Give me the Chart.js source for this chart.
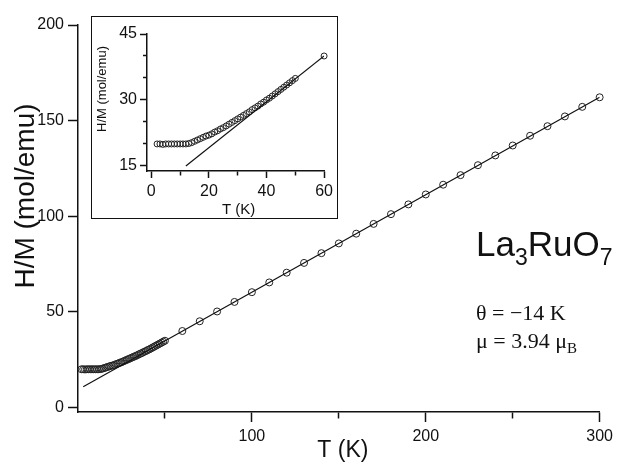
<!DOCTYPE html>
<html>
<head>
<meta charset="utf-8">
<script src="https://cdn.jsdelivr.net/npm/chart.js@4.4.1/dist/chart.umd.min.js"></script>
<style>
  body { margin: 0; background: #fff; }
  #wrap { position: relative; width: 618px; height: 462px; }
  #mainChart { position: absolute; left: 0; top: 0; }
  #insetBox { position: absolute; left: 91px; top: 16px; width: 245px; height: 201px; border: 1.5px solid #111; background: #fff; }
  #insetChart { position: absolute; left: 0; top: 0; }
</style>
</head>
<body>
<div id="wrap">
  <canvas id="mainChart" width="618" height="462"></canvas>
  <div id="insetBox"><canvas id="insetChart" width="245" height="201"></canvas></div>
</div>
<script>
// inverse susceptibility H/M (mol/emu) vs temperature T (K)
const lowT = [2, 3, 4, 5, 6, 7, 8, 9, 10, 11, 12, 13, 14, 15, 16, 17, 18, 19, 20,
  21, 22, 23, 24, 25, 26, 27, 28, 29, 30, 31, 32, 33, 34, 35, 36, 37, 38, 39, 40,
  41, 42, 43, 44, 45, 46, 47, 48, 49, 50];
const lowHM = [20.0, 20.0, 19.9, 20.0, 20.0, 20.0, 20.0, 20.0, 20.0, 20.0, 20.0, 20.1, 20.3, 20.6, 20.9, 21.2, 21.5, 21.8, 22.0,
  22.3, 22.7, 23.0, 23.4, 23.7, 24.1, 24.5, 24.9, 25.3, 25.7, 26.1, 26.5, 26.9, 27.3, 27.8, 28.2, 28.6, 29.1, 29.5, 30.0,
  30.4, 30.9, 31.4, 31.9, 32.4, 32.9, 33.4, 33.9, 34.4, 34.9];
const highT = [60, 70, 80, 90, 100, 110, 120, 130, 140, 150, 160, 170, 180, 190, 200,
  210, 220, 230, 240, 250, 260, 270, 280, 290, 300];
const highHM = [40.0, 45.1, 50.2, 55.2, 60.3, 65.4, 70.5, 75.6, 80.7, 85.8, 90.9, 96.0, 101.1, 106.2, 111.4,
  116.5, 121.5, 126.7, 131.8, 137.0, 142.1, 147.1, 152.2, 157.2, 162.2];

// Curie-Weiss fit lines
const fitT = [3, 300];
const fitHM = [10.8, 162.2];
const insetFitT = [12, 60];
const insetFitHM = [15, 40];

// axis ticks
const xMajor = [100, 200, 300];
const xMinor = [50, 150, 250];
const yMajor = [0, 50, 100, 150, 200];
const insetXMajor = [0, 20, 40, 60];
const insetXMinor = [10, 30, 50];
const insetYMajor = [15, 30, 45];
const insetYMinor = [20, 25, 35, 40];

const SANS = '"Liberation Sans", Arial, Helvetica, sans-serif';
const SERIF = '"Liberation Serif", "Times New Roman", serif';
const INK = '#111';

const pts = (xs, ys) => xs.map((x, i) => ({ x: x, y: ys[i] }));

// minor ticks are the same tick lines cut short with a dash pattern;
// left axes draw ticks from the outer end inwards, so the dash is offset there
function axis(o) {
  const minor = o.minor || [];
  const all = o.major.concat(minor).sort((a, b) => a - b);
  const isMinor = v => minor.includes(v);
  const left = o.axis === 'y';
  return {
    type: 'linear',
    axis: o.axis,
    position: left ? 'left' : 'bottom',
    min: o.min,
    max: o.max,
    afterBuildTicks: s => { s.ticks = all.map(v => ({ value: v })); },
    afterFit: s => {
      if (left) s.width = o.size; else s.height = o.size;
    },
    border: { display: true, color: INK, width: 1.5 },
    grid: {
      drawOnChartArea: false,
      drawTicks: true,
      tickLength: o.tick,
      tickWidth: 1.5,
      tickColor: INK,
      tickBorderDash: c => isMinor(c.tick.value) ? [o.minorTick, o.tick - o.minorTick] : [],
      tickBorderDashOffset: c => (left && isMinor(c.tick.value)) ? o.minorTick : 0
    },
    ticks: {
      color: INK, padding: o.pad, autoSkip: false, maxRotation: 0,
      font: { family: SANS, size: o.font },
      callback: v => isMinor(v) ? '' : String(v)
    }
  };
}

function runs(ctx, x, y, parts) {
  for (const p of parts) {
    ctx.font = p.font;
    ctx.fillText(p.text, x, y + (p.dy || 0));
    x += ctx.measureText(p.text).width;
  }
}

const mainText = {
  id: 'mainText',
  afterDraw(chart) {
    const ctx = chart.ctx;
    const a = chart.chartArea;
    ctx.save();
    ctx.fillStyle = INK;
    ctx.textAlign = 'center';
    ctx.textBaseline = 'middle';
    ctx.font = '28px ' + SANS;
    ctx.translate(26, 196);
    ctx.rotate(-Math.PI / 2);
    ctx.fillText('H/M (mol/emu)', 0, 0);
    ctx.restore();

    ctx.save();
    ctx.fillStyle = INK;
    ctx.textAlign = 'center';
    ctx.textBaseline = 'middle';
    ctx.font = '23px ' + SANS;
    ctx.fillText('T (K)', (a.left + a.right) / 2 + 4, 451);

    ctx.textAlign = 'left';
    ctx.textBaseline = 'alphabetic';
    runs(ctx, 476, 256, [
      { text: 'La', font: '35px ' + SANS },
      { text: '3', font: '23px ' + SANS, dy: 9 },
      { text: 'RuO', font: '35px ' + SANS },
      { text: '7', font: '23px ' + SANS, dy: 9 }
    ]);
    runs(ctx, 476, 320, [{ text: '\u03b8 = \u221214 K', font: '22px ' + SERIF }]);
    runs(ctx, 476, 348, [
      { text: '\u03bc = 3.94 \u03bc', font: '22px ' + SERIF },
      { text: 'B', font: '15px ' + SERIF, dy: 5 }
    ]);
    ctx.restore();
  }
};

const insetText = {
  id: 'insetText',
  afterDraw(chart) {
    const ctx = chart.ctx;
    const a = chart.chartArea;
    ctx.save();
    ctx.fillStyle = INK;
    ctx.textAlign = 'center';
    ctx.textBaseline = 'middle';
    ctx.font = '13px ' + SANS;
    ctx.save();
    ctx.translate(10, 72);
    ctx.rotate(-Math.PI / 2);
    ctx.fillText('H/M (mol/emu)', 0, 0);
    ctx.restore();
    ctx.font = '15px ' + SANS;
    ctx.fillText('T (K)', (a.left + a.right) / 2 + 3, 193);
    ctx.restore();
  }
};

Chart.defaults.animation = false;

new Chart(document.getElementById('mainChart'), {
  type: 'scatter',
  data: {
    datasets: [{
      data: pts(fitT, fitHM),
      showLine: true,
      borderColor: INK,
      borderWidth: 1.2,
      pointRadius: 0
    }, {
      data: pts(lowT, lowHM).concat(pts(highT, highHM)),
      clip: false,
      pointStyle: 'circle',
      pointRadius: 3.5,
      pointBorderWidth: 1,
      pointBorderColor: '#222',
      pointBackgroundColor: 'rgba(255,255,255,0)'
    }]
  },
  options: {
    responsive: false,
    devicePixelRatio: 1,
    layout: { padding: { top: 25, right: 15, left: 0, bottom: 0 } },
    plugins: { legend: { display: false }, tooltip: { enabled: false } },
    scales: {
      x: axis({ axis: 'x', min: 0, max: 300, major: xMajor, minor: xMinor, size: 50, tick: 10, minorTick: 6, pad: 5, font: 16 }),
      y: axis({ axis: 'y', min: -2.35, max: 200, major: yMajor, size: 78, tick: 10, minorTick: 10, pad: 4, font: 16 })
    }
  },
  plugins: [mainText]
});

new Chart(document.getElementById('insetChart'), {
  type: 'scatter',
  data: {
    datasets: [{
      data: pts(insetFitT, insetFitHM),
      showLine: true,
      borderColor: INK,
      borderWidth: 1.2,
      pointRadius: 0
    }, {
      data: pts(lowT, lowHM).concat(pts(highT.slice(0, 1), highHM.slice(0, 1))),
      clip: false,
      pointStyle: 'circle',
      pointRadius: 3,
      pointBorderWidth: 1,
      pointBorderColor: '#222',
      pointBackgroundColor: 'rgba(255,255,255,0)'
    }]
  },
  options: {
    responsive: false,
    devicePixelRatio: 1,
    layout: { padding: { top: 17, right: 10, left: 0, bottom: 0 } },
    plugins: { legend: { display: false }, tooltip: { enabled: false } },
    scales: {
      x: axis({ axis: 'x', min: -1.5, max: 60, major: insetXMajor, minor: insetXMinor, size: 47, tick: 7, minorTick: 4, pad: 4, font: 16 }),
      y: axis({ axis: 'y', min: 13.85, max: 45, major: insetYMajor, minor: insetYMinor, size: 55, tick: 7, minorTick: 4, pad: 3, font: 16 })
    }
  },
  plugins: [insetText]
});
</script>
</body>
</html>
